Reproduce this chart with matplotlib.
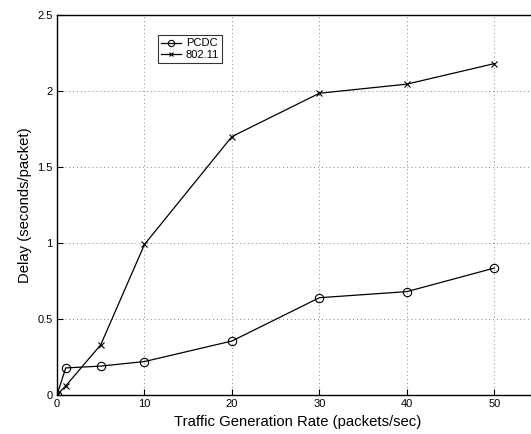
import matplotlib
matplotlib.use("Agg")
import matplotlib.pyplot as plt

plt.rcParams['font.family'] = ['Liberation Sans', 'DejaVu Sans']

rate = [0, 1, 5, 10, 20, 30, 40, 50]
pcdc = [0.0, 0.178, 0.19, 0.22, 0.355, 0.64, 0.68, 0.835]
wifi = [0.0, 0.06, 0.33, 0.99, 1.70, 1.985, 2.045, 2.18]

fig = plt.figure(figsize=(5.31, 4.34), dpi=100)
ax = fig.add_axes([0.1073, 0.0899, 0.906, 0.8756])

ax.plot(rate, pcdc, color='black', lw=0.9, marker='o', ms=6,
        mfc='none', mec='black', mew=0.8, label='PCDC')
ax.plot(rate, wifi, color='black', lw=0.9, marker='x', ms=4,
        mew=0.8, label='802.11')

ax.set_xlim(0, 55)
ax.set_ylim(0, 2.5)
ax.set_xticks([0, 10, 20, 30, 40, 50])
ax.set_yticks([0, 0.5, 1, 1.5, 2, 2.5])
ax.set_yticklabels(['0', '0.5', '1', '1.5', '2', '2.5'])
ax.tick_params(direction='in', length=4, width=0.8, labelsize=8, pad=3)
ax.grid(True, linestyle=(0, (1, 3)), color='#888888', lw=0.7)
for s in ax.spines.values():
    s.set_linewidth(1.0)

ax.set_xlabel('Traffic Generation Rate (packets/sec)', fontsize=10.7)
ax.set_ylabel('Delay (seconds/packet)', fontsize=10.7)

leg = ax.legend(loc='upper left', bbox_to_anchor=(0.21, 0.947), fontsize=8,
                frameon=True, fancybox=False, handlelength=1.8,
                borderpad=0.3, labelspacing=0.1, handletextpad=0.4,
                borderaxespad=0, markerscale=0.75)
leg.get_frame().set_edgecolor('black')
leg.get_frame().set_linewidth(0.8)

fig.savefig('out.png', dpi=100)
